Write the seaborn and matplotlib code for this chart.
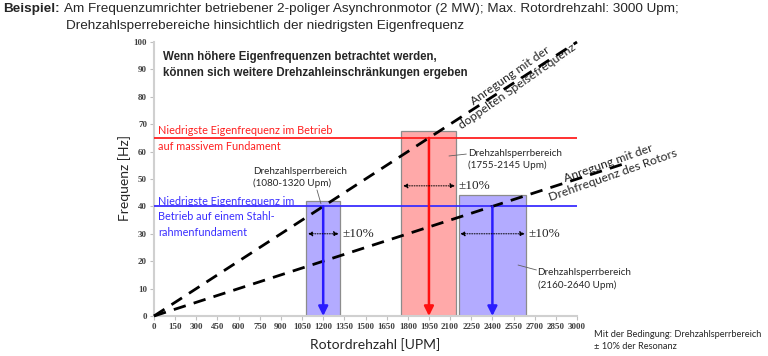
import numpy as np
import pandas as pd
import matplotlib
matplotlib.use('Agg')
import matplotlib.pyplot as plt
import seaborn as sns

# --- daten ---
x_ticks = list(range(0, 3001, 150))
y_ticks = list(range(0, 101, 10))

speise_x = [0, 3000]
speise_y = [0, 100]
rotor_x = [0, 3360]
rotor_y = [0, 56]

band_low = [1080, 1755, 2160]
band_high = [1320, 2145, 2640]
band_height = [42, 67.5, 44]
band_center = [1200, 1950, 2400]
band_resonanz = [40, 65, 40]
band_tol_y = [30, 47.5, 30]
band_farbe = ['#b3abff', '#ffa9a9', '#b3abff']
pfeil_farbe = ['#2a1cff', '#ff1010', '#2a1cff']
band_text = ['Drehzahlsperrbereich\n(1080-1320 Upm)',
             'Drehzahlsperrbereich\n(1755-2145 Upm)',
             'Drehzahlsperrbereich\n(2160-2640 Upm)']

eigen_rot = 65
eigen_blau = 40

sns.set_style("ticks")
CAL = ['Lato', 'DejaVu Sans']
ARIAL = ['Liberation Sans', 'DejaVu Sans']
SERIF = ['Liberation Serif', 'DejaVu Serif']

fig = plt.figure(figsize=(7.68, 3.56), dpi=100)
ax = fig.add_axes([154 / 768, 1 - 316 / 356, 423 / 768, 274 / 356])

# Sperrbereiche
bars = pd.DataFrame({'low': band_low, 'high': band_high, 'h': band_height})
for i, r in bars.iterrows():
    ax.bar(band_center[i], r['h'], width=r['high'] - r['low'], color=band_farbe[i],
           edgecolor='#8c8c8c', linewidth=0.9, zorder=2)

# Eigenfrequenzen
ax.plot([0, 3000], [eigen_rot, eigen_rot], color='#ff2020', lw=1.3, zorder=3)
ax.plot([0, 3000], [eigen_blau, eigen_blau], color='#3a2eff', lw=1.3, zorder=3)

# Anregungslinien
sns.lineplot(x=speise_x, y=speise_y, ax=ax, color='black', lw=2.0,
             clip_on=False, zorder=4).lines[-1].set_dashes((4.5, 3))
sns.lineplot(x=rotor_x, y=rotor_y, ax=ax, color='black', lw=2.0,
             clip_on=False, zorder=4).lines[-1].set_dashes((4.5, 3))

# Pfeile
for c, res, col in zip(band_center, band_resonanz, pfeil_farbe):
    ax.annotate('', xy=(c, 0), xytext=(c, res),
                arrowprops=dict(arrowstyle='-|>', color=col, lw=1.8,
                                mutation_scale=14, shrinkA=0, shrinkB=0), zorder=5)

for lo, hi, ty in zip(band_low, band_high, band_tol_y):
    ax.annotate('', xy=(lo + 10, ty), xytext=(hi - 10, ty),
                arrowprops=dict(arrowstyle='<|-|>', color='black', lw=0.7,
                                linestyle=(0, (1, 1.5)), mutation_scale=7,
                                shrinkA=0, shrinkB=0), zorder=5)
    ax.text(hi + 15, ty, '±10%', fontsize=9.5, family=SERIF, va='center', ha='left', color='#262626')

# Beschriftungen der Sperrbereiche
txt_pos = [(702, 50.5), (2225, 57), (2720, 13.5)]
leader = [((1156, 46), (1184, 41)), ((2092, 58.4), (2215, 59.1)), ((2582, 18.6), (2712, 16.8))]
for (tx, ty), (p0, p1), t in zip(txt_pos, leader, band_text):
    ax.text(tx, ty, t, fontsize=7.1, family=CAL, va='center', ha='left', color='#262626',
            linespacing=1.35, zorder=6)
    ax.plot([p0[0], p1[0]], [p0[1], p1[1]], color='#606060', lw=0.6, zorder=6)

ax.text(28, 65.8, 'Niedrigste Eigenfrequenz im Betrieb', color='#ff2020', fontsize=7.8,
        family=CAL, va='bottom', ha='left')
ax.text(28, 64.0, 'auf massivem Fundament', color='#ff2020', fontsize=7.8,
        family=CAL, va='top', ha='left')
ax.text(28, 43.8, 'Niedrigste Eigenfrequenz im\nBetrieb auf einem Stahl-\nrahmenfundament',
        color='#3a2eff', fontsize=7.8, family=CAL, va='top', ha='left', linespacing=1.5)

ax.text(64, 96.8, 'Wenn höhere Eigenfrequenzen betrachtet werden,\nkönnen sich weitere Drehzahleinschränkungen ergeben',
        fontsize=8.3, fontweight='bold', family=ARIAL, va='top', ha='left', linespacing=1.45)

ax.text(2552, 85.8, 'Anregung mit der\ndoppelten Speisefrequenz', rotation=35, rotation_mode='anchor',
        fontsize=8.8, family=CAL, ha='center', va='center', color='#262626', linespacing=1.15)
ax.text(3240, 53.6, 'Anregung mit der\nDrehfrequenz des Rotors', rotation=19.5, rotation_mode='anchor',
        fontsize=8.8, family=CAL, ha='center', va='center', color='#262626', linespacing=1.15,
        clip_on=False)

# Achsen
ax.set_xlim(0, 3000)
ax.set_ylim(0, 100)
ax.set_xticks(x_ticks)
ax.set_yticks(y_ticks)
for lab in ax.get_xticklabels() + ax.get_yticklabels():
    lab.set_family(SERIF)
    lab.set_fontsize(6.5)
    lab.set_color('#404040')
    lab.set_fontweight('bold')
ax.tick_params(axis='both', length=3, width=0.8, color='#bfbfbf', pad=2)
sns.despine(ax=ax)
for s in ['left', 'bottom']:
    ax.spines[s].set_color('#d0d0d0')
    ax.spines[s].set_linewidth(1.5)
ax.set_xlabel('')
ax.set_ylabel('')

fig.text(125 / 768, 1 - 178 / 356, 'Frequenz [Hz]', rotation=90, family=CAL, fontsize=10,
         ha='center', va='center', color='#262626')
fig.text(375 / 768, 1 - 345 / 356, 'Rotordrehzahl [UPM]', family=CAL, fontsize=10,
         ha='center', va='center', color='#262626')

fig.text(3 / 768, 1 - 3 / 356, 'Beispiel:', fontweight='bold', family=ARIAL, fontsize=9.7,
         ha='left', va='top')
fig.text(64 / 768, 1 - 3 / 356, 'Am Frequenzumrichter betriebener 2-poliger Asynchronmotor (2 MW); Max. Rotordrehzahl: 3000 Upm;',
         family=ARIAL, fontsize=9.7, ha='left', va='top')
fig.text(66 / 768, 1 - 20 / 356, 'Drehzahlsperrebereiche hinsichtlich der niedrigsten Eigenfrequenz',
         family=ARIAL, fontsize=9.7, ha='left', va='top')

fig.text(594 / 768, 1 - 330 / 356, 'Mit der Bedingung: Drehzahlsperrbereich\n± 10% der Resonanz',
         family=CAL, fontsize=6.7, ha='left', va='top', color='#262626', linespacing=1.4)

fig.savefig('out.png', dpi=100)
